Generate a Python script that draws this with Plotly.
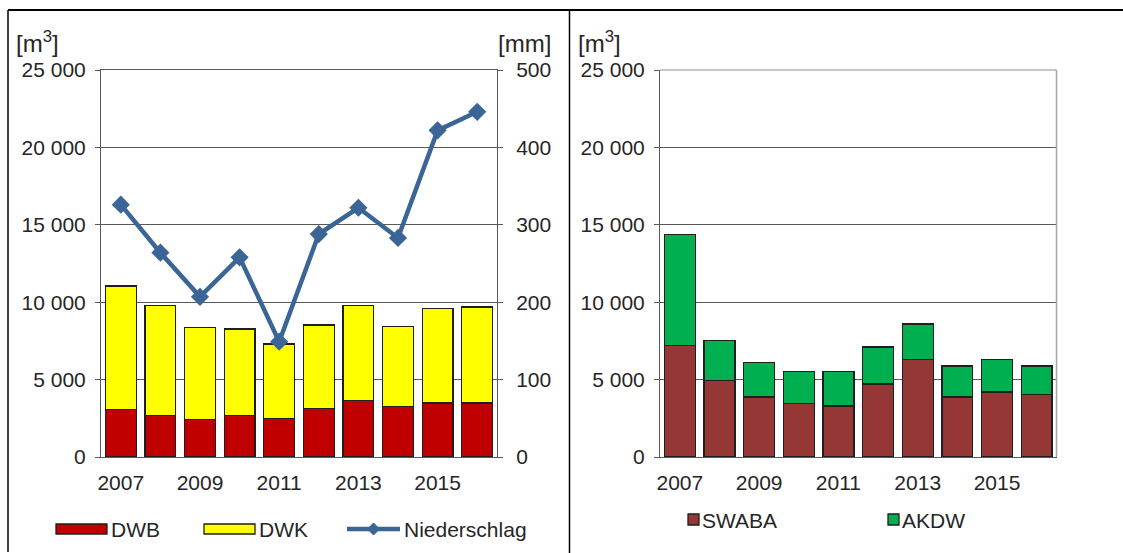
import plotly.graph_objects as go

# ---------------- data ----------------
years = ['2007', '2008', '2009', '2010', '2011', '2012', '2013', '2014', '2015', '2016']
year_ticks = ['2007', '2009', '2011', '2013', '2015']

dwb = [3080, 2670, 2410, 2670, 2500, 3140, 3660, 3250, 3490, 3490]
dwk = [7970, 7100, 5940, 5600, 4800, 5390, 6110, 5190, 6110, 6200]
niederschlag = [326, 264, 207, 258, 149, 288, 322, 283, 422, 446]

swaba = [7190, 4960, 3880, 3470, 3300, 4720, 6290, 3880, 4200, 4050]
akdw = [7200, 2580, 2240, 2070, 2240, 2390, 2300, 2000, 2090, 1830]

left_ticks_m3 = [0, 5000, 10000, 15000, 20000, 25000]
right_ticks_mm = [0, 100, 200, 300, 400, 500]

# ---------------- styling ----------------
W, H = 1123, 553
FONT = "Arial, 'Liberation Sans', sans-serif"
TXT = '#262626'
AX = '#595959'
FS = 21

C_DWB = '#C00000'
C_DWK = '#FFFF00'
C_NS = '#3A6596'
C_SWABA = '#953735'
C_AKDW = '#00B050'
EDGE = '#1f1f1f'


def px(x):
    return x / W


def py(y):
    return 1 - y / H


fig = go.Figure()

fig.add_trace(go.Bar(x=years, y=dwb, name='DWB', xaxis='x', yaxis='y',
                     marker=dict(color=C_DWB, line=dict(color=EDGE, width=1.3)),
                     showlegend=False))
fig.add_trace(go.Bar(x=years, y=dwk, name='DWK', xaxis='x', yaxis='y',
                     marker=dict(color=C_DWK, line=dict(color=EDGE, width=1.3)),
                     showlegend=False))
fig.add_trace(go.Scatter(x=years, y=niederschlag, name='Niederschlag', xaxis='x', yaxis='y2',
                         mode='lines+markers',
                         line=dict(color=C_NS, width=4.5),
                         marker=dict(symbol='diamond', size=14, color=C_NS),
                         showlegend=False))
fig.add_trace(go.Bar(x=years, y=swaba, name='SWABA', xaxis='x2', yaxis='y3',
                     marker=dict(color=C_SWABA, line=dict(color=EDGE, width=1.3)),
                     showlegend=False))
fig.add_trace(go.Bar(x=years, y=akdw, name='AKDW', xaxis='x2', yaxis='y3',
                     marker=dict(color=C_AKDW, line=dict(color=EDGE, width=1.3)),
                     showlegend=False))

ydom = [py(457), py(70)]
tickfont = dict(family=FONT, size=FS, color=TXT)

xcommon = dict(type='category', tickmode='array', tickvals=year_ticks, ticktext=year_ticks,
               ticks='', showline=True, linecolor=AX, linewidth=1, mirror=True,
               showgrid=False, tickfont=tickfont, ticklabelstandoff=7,
               range=[-0.5, 9.5], fixedrange=True, automargin=False)

ycommon = dict(range=[0, 25000], tickmode='array', tickvals=left_ticks_m3, tickformat=',d',
               showgrid=True, gridcolor=AX, gridwidth=1, showline=True, linecolor=AX,
               linewidth=1, ticks='outside', ticklen=5, tickcolor=AX, zeroline=False,
               tickfont=tickfont, ticklabelstandoff=5, automargin=False)

fig.update_layout(
    width=W, height=H, autosize=False,
    margin=dict(l=0, r=0, t=0, b=0, pad=0),
    paper_bgcolor='white', plot_bgcolor='white',
    separators=', ',
    barmode='stack', bargap=0.22,
    font=dict(family=FONT, size=FS, color=TXT),
    xaxis=dict(domain=[px(101), px(497)], anchor='y', **xcommon),
    yaxis=dict(domain=ydom, anchor='x', **ycommon),
    yaxis2=dict(overlaying='y', side='right', anchor='x', range=[0, 500],
                tickmode='array', tickvals=right_ticks_mm, showgrid=False,
                showline=True, linecolor=AX, linewidth=1, ticks='outside',
                ticklen=5, tickcolor=AX, zeroline=False, tickfont=tickfont,
                ticklabelstandoff=9, automargin=False),
    xaxis2=dict(domain=[px(660), px(1056.5)], anchor='y3', **{**xcommon, 'mirror': False}),
    yaxis3=dict(domain=ydom, anchor='x2', **ycommon),
    showlegend=False,
)

shapes = []
# outer frame
shapes.append(dict(type='line', xref='paper', yref='paper', x0=px(8), x1=1, y0=py(10), y1=py(10),
                   line=dict(color='#000000', width=2)))
shapes.append(dict(type='line', xref='paper', yref='paper', x0=px(8), x1=px(8), y0=py(10), y1=py(552),
                   line=dict(color='#000000', width=1.5)))
shapes.append(dict(type='line', xref='paper', yref='paper', x0=px(569.5), x1=px(569.5), y0=py(10), y1=0,
                   line=dict(color='#000000', width=1.5)))
# right panel plot border (top and right)
shapes.append(dict(type='line', xref='paper', yref='paper', x0=px(660), x1=px(1056.5), y0=py(70), y1=py(70),
                   line=dict(color='#8c8c8c', width=1)))
shapes.append(dict(type='line', xref='paper', yref='paper', x0=px(1056.5), x1=px(1056.5), y0=py(70), y1=py(457),
                   line=dict(color='#a6a6a6', width=1.5)))

# custom legend (left)
shapes.append(dict(type='rect', xref='paper', yref='paper', x0=px(56), x1=px(107), y0=py(534), y1=py(524),
                   fillcolor=C_DWB, line=dict(color=EDGE, width=1.3)))
shapes.append(dict(type='rect', xref='paper', yref='paper', x0=px(204), x1=px(255), y0=py(534), y1=py(524),
                   fillcolor=C_DWK, line=dict(color=EDGE, width=1.3)))
shapes.append(dict(type='line', xref='paper', yref='paper', x0=px(347), x1=px(400), y0=py(529), y1=py(529),
                   line=dict(color=C_NS, width=4.5)))
shapes.append(dict(type='path', xref='paper', yref='paper',
                   path=f'M {px(373.5)} {py(523)} L {px(379.5)} {py(529)} L {px(373.5)} {py(535)} L {px(367.5)} {py(529)} Z',
                   fillcolor=C_NS, line=dict(color=C_NS, width=1)))
# custom legend (right)
shapes.append(dict(type='rect', xref='paper', yref='paper', x0=px(688), x1=px(699), y0=py(525), y1=py(514),
                   fillcolor=C_SWABA, line=dict(color=EDGE, width=1.3)))
shapes.append(dict(type='rect', xref='paper', yref='paper', x0=px(888), x1=px(899), y0=py(525), y1=py(514),
                   fillcolor=C_AKDW, line=dict(color=EDGE, width=1.3)))

fig.update_layout(shapes=shapes)

ann = []


def text(x, y, s, anchor='left', size=FS):
    ann.append(dict(xref='paper', yref='paper', x=px(x), y=py(y), text=s, showarrow=False,
                    xanchor=anchor, yanchor='middle', font=dict(family=FONT, size=size, color=TXT)))


text(14, 42, '[m<sup>3</sup>]', size=24)
text(553, 43, '[mm]', 'right', size=24)
text(576, 42, '[m<sup>3</sup>]', size=24)
text(109, 529, 'DWB')
text(257, 529, 'DWK')
text(402, 529, 'Niederschlag')
text(700, 520, 'SWABA')
text(900, 520, 'AKDW')

fig.update_layout(annotations=ann)

fig.write_html('out.html', config={'displayModeBar': False},
               post_script="document.body.style.margin='0';document.body.style.overflow='hidden';")
